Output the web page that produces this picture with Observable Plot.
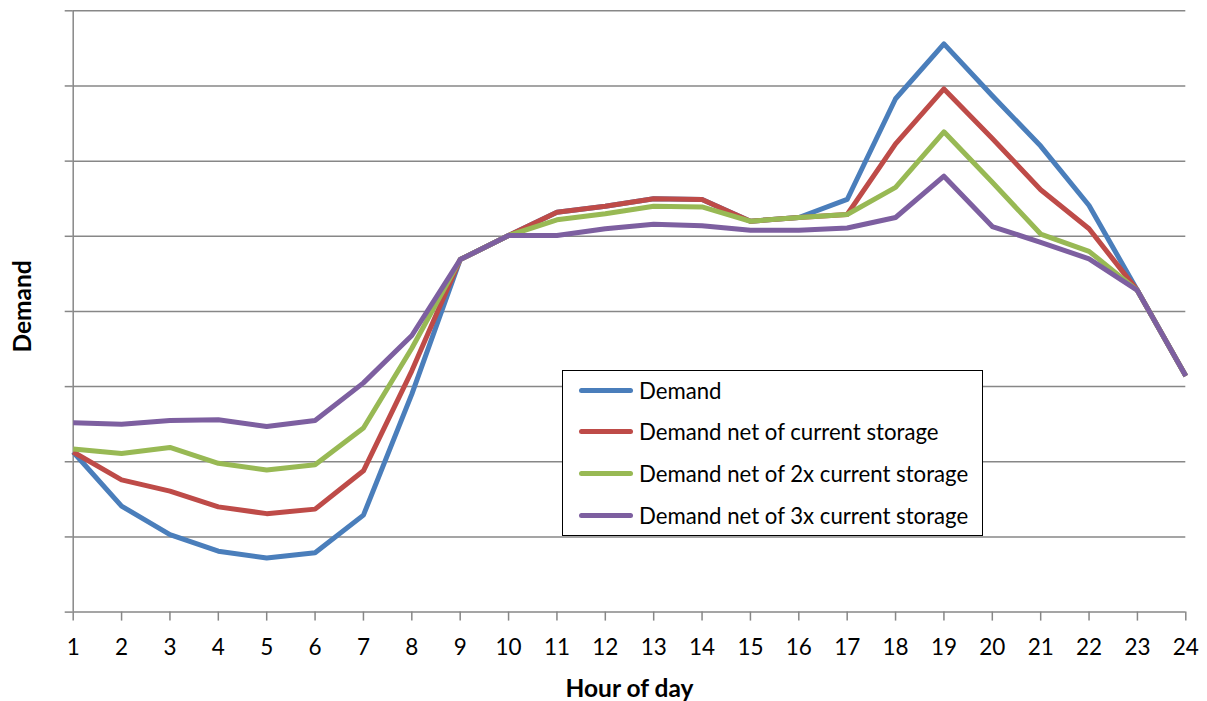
<!DOCTYPE html>
<html>
<head>
<meta charset="utf-8">
<script src="https://cdn.jsdelivr.net/npm/d3@7"></script>
<script src="https://cdn.jsdelivr.net/npm/@observablehq/plot@0.6"></script>
<style>
  html, body { margin: 0; padding: 0; background: #fff; }
  #wrap { position: relative; width: 1207px; height: 701px; font-family: Lato, "Liberation Sans", sans-serif; }
  #legend { position: absolute; left: 562px; top: 370px; width: 421px; height: 166px; border: 1.3px solid #000; background: #fff; box-sizing: border-box; }
  .row { position: absolute; left: 0; height: 30px; display: flex; align-items: center; font-size: 22.2px; color: #000; white-space: nowrap; }
  .sw { display: inline-block; width: 54px; height: 5px; border-radius: 3px; margin-left: 16px; margin-right: 6px; }
</style>
</head>
<body>
<div id="wrap"></div>
<script>
const hours = [1,2,3,4,5,6,7,8,9,10,11,12,13,14,15,16,17,18,19,20,21,22,23,24];
const yTicks = [0,10,20,30,40,50,60,70,80];
const seriesNames = ["Demand","Demand net of current storage","Demand net of 2x current storage","Demand net of 3x current storage"];
const seriesColors = ["#4a7ebb","#be4b48","#98b954","#7d5fa0"];
const demand   = [21.3,14.1,10.3,8.1,7.2,7.9,12.9,29.0,46.9,50.1,53.2,54.0,55.0,54.9,52.0,52.5,54.9,68.3,75.6,68.7,62.0,54.1,42.8,31.4];
const net1x    = [21.3,17.6,16.1,14.0,13.1,13.7,18.8,32.1,46.9,50.1,53.2,54.0,55.0,54.9,52.0,52.5,52.9,62.3,69.6,63.0,56.2,51.0,42.8,31.4];
const net2x    = [21.7,21.1,21.9,19.8,18.9,19.6,24.5,35.1,46.9,50.1,52.2,53.0,54.0,53.9,52.0,52.5,52.9,56.5,63.9,57.2,50.3,48.0,42.8,31.4];
const net3x    = [25.2,25.0,25.5,25.6,24.7,25.5,30.5,36.8,46.9,50.1,50.1,51.0,51.6,51.4,50.8,50.8,51.1,52.5,58.0,51.3,49.2,47.0,42.8,31.4];
const allSeries = [demand, net1x, net2x, net3x];

const rows = [];
allSeries.forEach((vals, si) => vals.forEach((v, i) => rows.push({hour: hours[i], value: v, series: seriesNames[si]})));

const grid = "#878787";
const chart = Plot.plot({
  width: 1207, height: 701,
  marginLeft: 72.7, marginRight: 21.7, marginTop: 10.3, marginBottom: 89.4,
  x: {domain: [1, 24]},
  y: {domain: [0, 80]},
  color: {domain: seriesNames, range: seriesColors},
  style: {fontFamily: "Lato, 'Liberation Sans', sans-serif", fontSize: "22px", color: "#000", background: "#fff", overflow: "visible"},
  marks: [
    Plot.ruleY(yTicks, {stroke: grid, strokeWidth: 1.5}),
    Plot.ruleX([1], {stroke: grid, strokeWidth: 1.5}),
    Plot.axisY({ticks: yTicks, tickSize: 8, tickFormat: () => "", stroke: grid, strokeWidth: 1.5, label: null}),
    Plot.axisX({ticks: hours, tickSize: 9, tickPadding: 18, tickFormat: d => String(d), stroke: grid, strokeWidth: 1.5, label: null, fontSize: 22.5, fill: "#000"}),
    Plot.lineY(rows, {x: "hour", y: "value", stroke: "series", z: "series", strokeWidth: 5, strokeLinejoin: "round", strokeLinecap: "butt"}),
    Plot.text(["Demand"], {frameAnchor: "left", textAnchor: "middle", lineAnchor: "middle", dx: -50, dy: -5, rotate: -90, fontWeight: "bold", fontSize: 24.5, fill: "#000"}),
    Plot.text(["Hour of day"], {frameAnchor: "bottom", textAnchor: "middle", lineAnchor: "middle", dy: 77, fontWeight: "bold", fontSize: 24.5, fill: "#000"})
  ]
});
const wrap = document.getElementById("wrap");
wrap.appendChild(chart);

const legend = document.createElement("div");
legend.id = "legend";
const centers = [19.7, 60.7, 102, 144];
seriesNames.forEach((name, i) => {
  const r = document.createElement("div");
  r.className = "row";
  r.style.top = (centers[i] - 15) + "px";
  const sw = document.createElement("span");
  sw.className = "sw";
  sw.style.background = seriesColors[i];
  r.appendChild(sw);
  r.appendChild(document.createTextNode(name));
  legend.appendChild(r);
});
wrap.appendChild(legend);
</script>
</body>
</html>
